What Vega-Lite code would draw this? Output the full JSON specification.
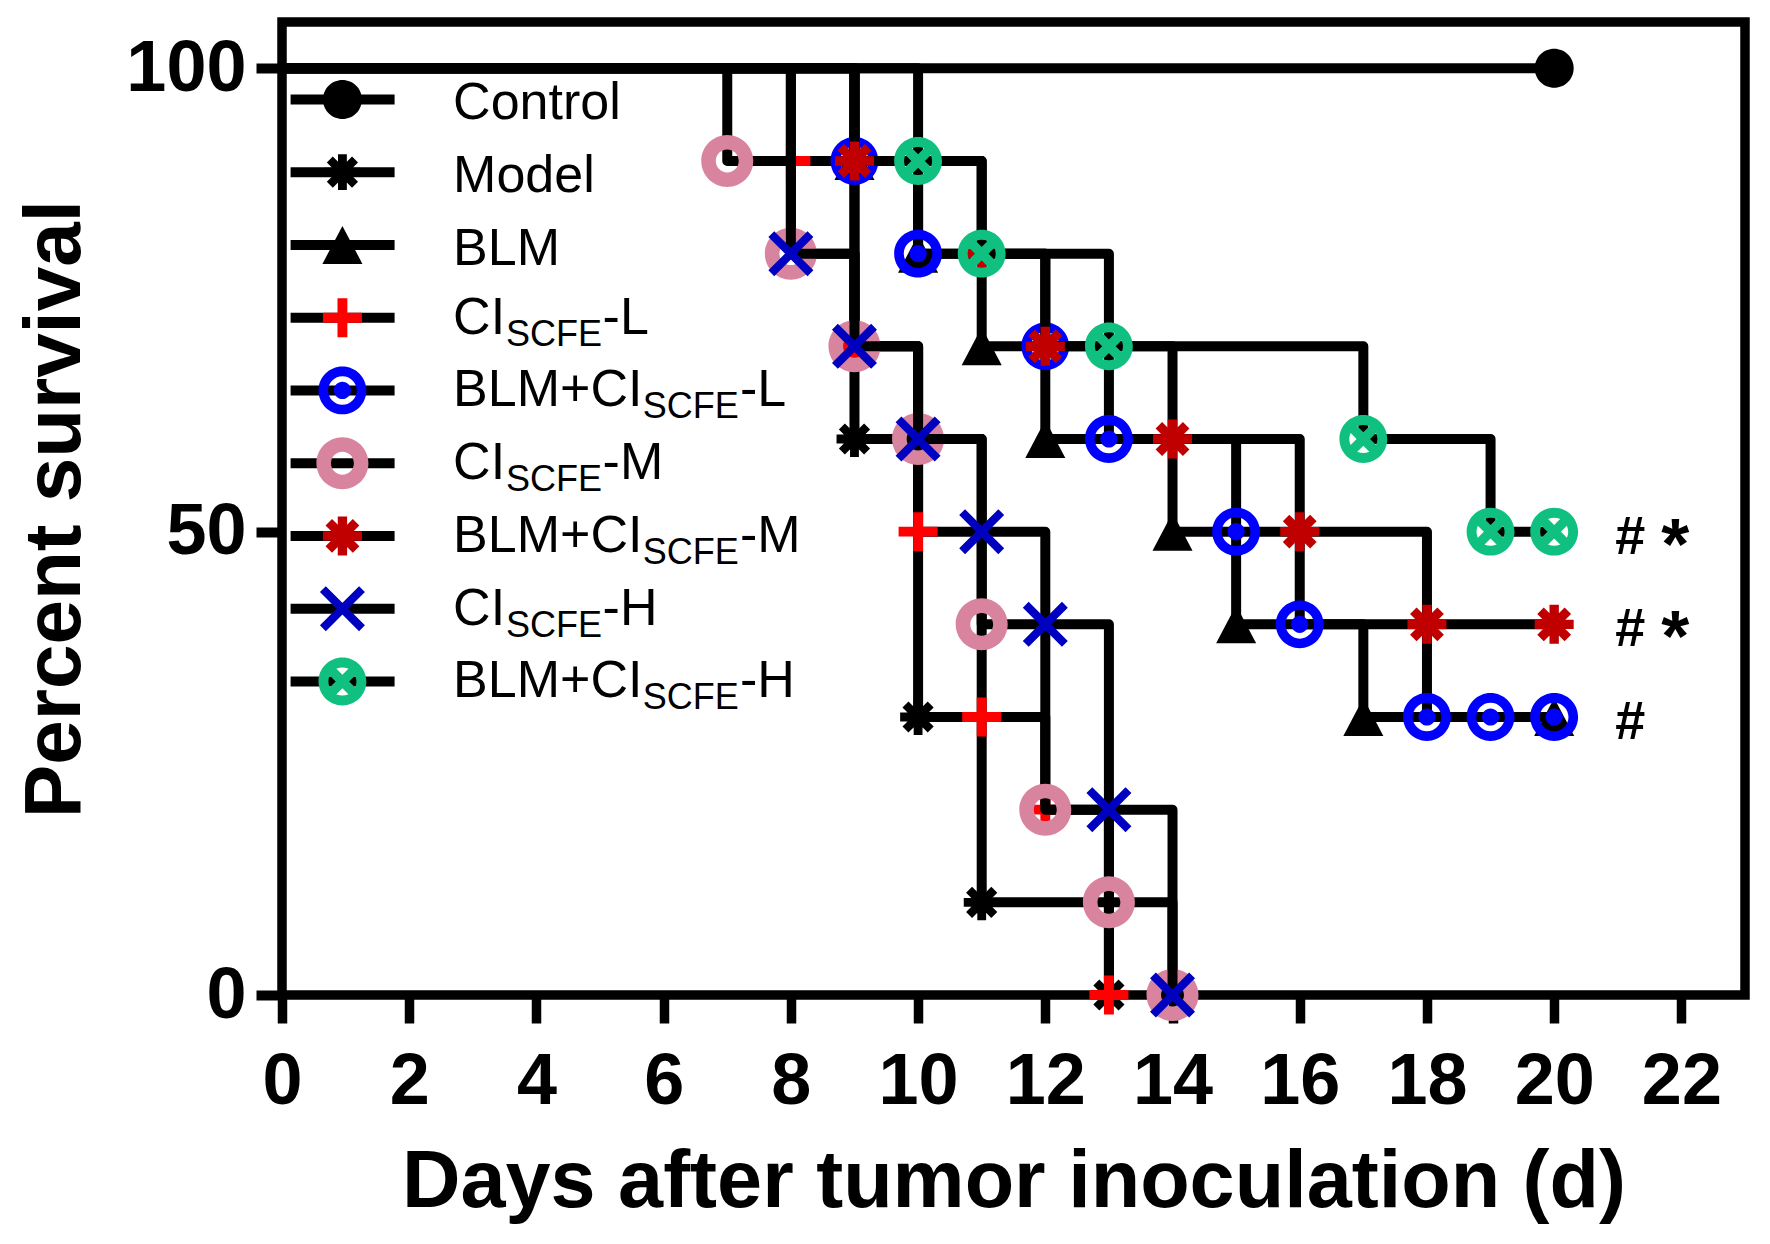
{
  "$schema": "https://vega.github.io/schema/vega-lite/v6.json",
  "width": 1463,
  "height": 973,
  "autosize": "none",
  "padding": {"left": 282, "top": 22, "right": 25, "bottom": 249},
  "background": "white",
  "datasets": {
    "curves": [
      {"group": "Control", "day": 0, "surv": 100}, {"group": "Control", "day": 20, "surv": 100},
      {"group": "Model", "day": 0, "surv": 100}, {"group": "Model", "day": 9, "surv": 60}, {"group": "Model", "day": 10, "surv": 30}, {"group": "Model", "day": 11, "surv": 10}, {"group": "Model", "day": 13, "surv": 0},
      {"group": "BLM", "day": 0, "surv": 100}, {"group": "BLM", "day": 9, "surv": 90}, {"group": "BLM", "day": 10, "surv": 80}, {"group": "BLM", "day": 11, "surv": 70}, {"group": "BLM", "day": 12, "surv": 60}, {"group": "BLM", "day": 14, "surv": 50}, {"group": "BLM", "day": 15, "surv": 40}, {"group": "BLM", "day": 17, "surv": 30}, {"group": "BLM", "day": 20, "surv": 30},
      {"group": "CI-L", "day": 0, "surv": 100}, {"group": "CI-L", "day": 8, "surv": 90}, {"group": "CI-L", "day": 9, "surv": 70}, {"group": "CI-L", "day": 10, "surv": 50}, {"group": "CI-L", "day": 11, "surv": 30}, {"group": "CI-L", "day": 12, "surv": 20}, {"group": "CI-L", "day": 13, "surv": 0},
      {"group": "BLM+CI-L", "day": 0, "surv": 100}, {"group": "BLM+CI-L", "day": 9, "surv": 90}, {"group": "BLM+CI-L", "day": 10, "surv": 80}, {"group": "BLM+CI-L", "day": 12, "surv": 70}, {"group": "BLM+CI-L", "day": 13, "surv": 60}, {"group": "BLM+CI-L", "day": 15, "surv": 50}, {"group": "BLM+CI-L", "day": 16, "surv": 40}, {"group": "BLM+CI-L", "day": 18, "surv": 30}, {"group": "BLM+CI-L", "day": 19, "surv": 30}, {"group": "BLM+CI-L", "day": 20, "surv": 30},
      {"group": "CI-M", "day": 0, "surv": 100}, {"group": "CI-M", "day": 7, "surv": 90}, {"group": "CI-M", "day": 8, "surv": 80}, {"group": "CI-M", "day": 9, "surv": 70}, {"group": "CI-M", "day": 10, "surv": 60}, {"group": "CI-M", "day": 11, "surv": 40}, {"group": "CI-M", "day": 12, "surv": 20}, {"group": "CI-M", "day": 13, "surv": 10}, {"group": "CI-M", "day": 14, "surv": 0},
      {"group": "BLM+CI-M", "day": 0, "surv": 100}, {"group": "BLM+CI-M", "day": 9, "surv": 90}, {"group": "BLM+CI-M", "day": 11, "surv": 80}, {"group": "BLM+CI-M", "day": 12, "surv": 70}, {"group": "BLM+CI-M", "day": 14, "surv": 60}, {"group": "BLM+CI-M", "day": 16, "surv": 50}, {"group": "BLM+CI-M", "day": 18, "surv": 40}, {"group": "BLM+CI-M", "day": 20, "surv": 40},
      {"group": "CI-H", "day": 0, "surv": 100}, {"group": "CI-H", "day": 8, "surv": 80}, {"group": "CI-H", "day": 9, "surv": 70}, {"group": "CI-H", "day": 10, "surv": 60}, {"group": "CI-H", "day": 11, "surv": 50}, {"group": "CI-H", "day": 12, "surv": 40}, {"group": "CI-H", "day": 13, "surv": 20}, {"group": "CI-H", "day": 14, "surv": 0},
      {"group": "BLM+CI-H", "day": 0, "surv": 100}, {"group": "BLM+CI-H", "day": 10, "surv": 90}, {"group": "BLM+CI-H", "day": 11, "surv": 80}, {"group": "BLM+CI-H", "day": 13, "surv": 70}, {"group": "BLM+CI-H", "day": 17, "surv": 60}, {"group": "BLM+CI-H", "day": 19, "surv": 50}, {"group": "BLM+CI-H", "day": 20, "surv": 50}
    ],
    "notes": [
      {"day": 20, "surv": 50, "hash": "#", "star": "*"},
      {"day": 20, "surv": 40, "hash": "#", "star": "*"},
      {"day": 20, "surv": 30, "hash": "#", "star": ""}
    ],
    "legend": [
      {"group": "Control", "rank": 1, "pre": "Control"},
      {"group": "Model", "rank": 2, "pre": "Model"},
      {"group": "BLM", "rank": 3, "pre": "BLM"},
      {"group": "CI-L", "rank": 4, "pre": "CI", "sub": "SCFE", "suf": "-L"},
      {"group": "BLM+CI-L", "rank": 5, "pre": "BLM+CI", "sub": "SCFE", "suf": "-L"},
      {"group": "CI-M", "rank": 6, "pre": "CI", "sub": "SCFE", "suf": "-M"},
      {"group": "BLM+CI-M", "rank": 7, "pre": "BLM+CI", "sub": "SCFE", "suf": "-M"},
      {"group": "CI-H", "rank": 8, "pre": "CI", "sub": "SCFE", "suf": "-H"},
      {"group": "BLM+CI-H", "rank": 9, "pre": "BLM+CI", "sub": "SCFE", "suf": "-H"}
    ]
  },
  "resolve": {"scale": {"y": "independent"}},
  "layer": [
    {
      "data": {"name": "curves"},
      "encoding": {
        "x": {
          "field": "day", "type": "quantitative",
          "scale": {"domain": [0, 23], "nice": false, "zero": true},
          "axis": {
            "values": [0, 2, 4, 6, 8, 10, 12, 14, 16, 18, 20, 22],
            "format": "d",
            "title": "Days after tumor inoculation (d)",
            "tickSize": 28, "tickWidth": 9.5, "labelPadding": 23,
            "titleFontSize": 81, "titlePadding": 25
          }
        },
        "y": {
          "field": "surv", "type": "quantitative",
          "scale": {"domain": [0, 105], "nice": false},
          "axis": {
            "values": [0, 50, 100],
            "format": "d",
            "title": "Percent survival",
            "tickSize": 26, "tickWidth": 10, "labelPadding": 10,
            "titleFontSize": 80, "titlePadding": 29
          }
        }
      },
      "layer": [
        {
          "transform": [{"filter": "datum.group === 'Control'"}],
          "layer": [
            {"mark": {"type": "line", "interpolate": "step-after", "color": "black", "strokeWidth": 10, "strokeJoin": "round"}},
            {
              "transform": [{"filter": "datum.day > 0"}],
              "mark": {"type": "point", "filled": true, "opacity": 1, "size": 2704, "strokeWidth": 0},
              "encoding": {
                "color": {
                  "field": "group", "type": "nominal",
                  "scale": {
                    "domain": ["Control", "Model", "BLM", "CI-L", "BLM+CI-L", "CI-M", "BLM+CI-M", "CI-H", "BLM+CI-H"],
                    "range": ["#000000", "#000000", "#000000", "#ff0000", "#0000ff", "#d8849f", "#c00000", "#0000c0", "#10c080"]
                  }
                },
                "shape": {
                  "field": "group", "type": "nominal",
                  "scale": {
                    "domain": ["Control", "Model", "BLM", "CI-L", "BLM+CI-L", "CI-M", "BLM+CI-M", "CI-H", "BLM+CI-H"],
                    "range": [
                      "M0.75,0A0.75,0.75,0,1,1,-0.75,0A0.75,0.75,0,1,1,0.75,0Z",
                      "M-0.17,-0.69H0.17V0.69H-0.17Z M-0.69,-0.17H0.69V0.17H-0.69Z M-0.37,-0.6L0.6,0.37L0.37,0.6L-0.6,-0.37Z M-0.37,0.6L-0.6,0.37L0.37,-0.6L0.6,-0.37Z",
                      "M0,-0.73L0.77,0.73L-0.77,0.73Z",
                      "M-0.19,-0.75H0.19V0.75H-0.19Z M-0.75,-0.19H0.75V0.19H-0.75Z",
                      "M0.92,0A0.92,0.92,0,1,1,-0.92,0A0.92,0.92,0,1,1,0.92,0Z M0.55,0A0.55,0.55,0,1,0,-0.55,0A0.55,0.55,0,1,0,0.55,0Z M0.33,0A0.33,0.33,0,1,1,-0.33,0A0.33,0.33,0,1,1,0.33,0Z",
                      "M1,0A1,1,0,1,1,-1,0A1,1,0,1,1,1,0Z M0.44,0A0.44,0.44,0,1,0,-0.44,0A0.44,0.44,0,1,0,0.44,0Z",
                      "M-0.18,-0.75H0.18V0.75H-0.18Z M-0.75,-0.18H0.75V0.18H-0.75Z M-0.4,-0.65L0.65,0.4L0.4,0.65L-0.65,-0.4Z M-0.4,0.65L-0.65,0.4L0.4,-0.65L0.65,-0.4Z",
                      "M-0.64,-0.865L0.865,0.64L0.64,0.865L-0.865,-0.64Z M-0.64,0.865L-0.865,0.64L0.64,-0.865L0.865,-0.64Z",
                      "M0.92,0A0.92,0.92,0,1,1,-0.92,0A0.92,0.92,0,1,1,0.92,0Z M0.54,0A0.54,0.54,0,1,0,-0.54,0A0.54,0.54,0,1,0,0.54,0Z M-0.47,-0.73L0.73,0.47L0.47,0.73L-0.73,-0.47Z M-0.47,0.73L-0.73,0.47L0.47,-0.73L0.73,-0.47Z"
                    ]
                  }
                }
              }
            }
          ]
        },
        {
          "transform": [{"filter": "datum.group === 'Model'"}],
          "layer": [
            {"mark": {"type": "line", "interpolate": "step-after", "color": "black", "strokeWidth": 10, "strokeJoin": "round"}},
            {"transform": [{"filter": "datum.day > 0"}], "mark": {"type": "point", "filled": true, "opacity": 1, "size": 2704, "strokeWidth": 0},
             "encoding": {"color": {"field": "group", "type": "nominal"}, "shape": {"field": "group", "type": "nominal"}}}
          ]
        },
        {
          "transform": [{"filter": "datum.group === 'BLM'"}],
          "layer": [
            {"mark": {"type": "line", "interpolate": "step-after", "color": "black", "strokeWidth": 10, "strokeJoin": "round"}},
            {"transform": [{"filter": "datum.day > 0"}], "mark": {"type": "point", "filled": true, "opacity": 1, "size": 2704, "strokeWidth": 0},
             "encoding": {"color": {"field": "group", "type": "nominal"}, "shape": {"field": "group", "type": "nominal"}}}
          ]
        },
        {
          "transform": [{"filter": "datum.group === 'CI-L'"}],
          "layer": [
            {"mark": {"type": "line", "interpolate": "step-after", "color": "black", "strokeWidth": 10, "strokeJoin": "round"}},
            {"transform": [{"filter": "datum.day > 0"}], "mark": {"type": "point", "filled": true, "opacity": 1, "size": 2704, "strokeWidth": 0},
             "encoding": {"color": {"field": "group", "type": "nominal"}, "shape": {"field": "group", "type": "nominal"}}}
          ]
        },
        {
          "transform": [{"filter": "datum.group === 'BLM+CI-L'"}],
          "layer": [
            {"mark": {"type": "line", "interpolate": "step-after", "color": "black", "strokeWidth": 10, "strokeJoin": "round"}},
            {"transform": [{"filter": "datum.day > 0"}], "mark": {"type": "point", "filled": true, "opacity": 1, "size": 2704, "strokeWidth": 0},
             "encoding": {"color": {"field": "group", "type": "nominal"}, "shape": {"field": "group", "type": "nominal"}}}
          ]
        },
        {
          "transform": [{"filter": "datum.group === 'CI-M'"}],
          "layer": [
            {"mark": {"type": "line", "interpolate": "step-after", "color": "black", "strokeWidth": 10, "strokeJoin": "round"}},
            {"transform": [{"filter": "datum.day > 0"}], "mark": {"type": "point", "filled": true, "opacity": 1, "size": 2704, "strokeWidth": 0},
             "encoding": {"color": {"field": "group", "type": "nominal"}, "shape": {"field": "group", "type": "nominal"}}}
          ]
        },
        {
          "transform": [{"filter": "datum.group === 'BLM+CI-M'"}],
          "layer": [
            {"mark": {"type": "line", "interpolate": "step-after", "color": "black", "strokeWidth": 10, "strokeJoin": "round"}},
            {"transform": [{"filter": "datum.day > 0"}], "mark": {"type": "point", "filled": true, "opacity": 1, "size": 2704, "strokeWidth": 0},
             "encoding": {"color": {"field": "group", "type": "nominal"}, "shape": {"field": "group", "type": "nominal"}}}
          ]
        },
        {
          "transform": [{"filter": "datum.group === 'CI-H'"}],
          "layer": [
            {"mark": {"type": "line", "interpolate": "step-after", "color": "black", "strokeWidth": 10, "strokeJoin": "round"}},
            {"transform": [{"filter": "datum.day > 0"}], "mark": {"type": "point", "filled": true, "opacity": 1, "size": 2704, "strokeWidth": 0},
             "encoding": {"color": {"field": "group", "type": "nominal"}, "shape": {"field": "group", "type": "nominal"}}}
          ]
        },
        {
          "transform": [{"filter": "datum.group === 'BLM+CI-H'"}],
          "layer": [
            {"mark": {"type": "line", "interpolate": "step-after", "color": "black", "strokeWidth": 10, "strokeJoin": "round"}},
            {"transform": [{"filter": "datum.day > 0"}], "mark": {"type": "point", "filled": true, "opacity": 1, "size": 2704, "strokeWidth": 0},
             "encoding": {"color": {"field": "group", "type": "nominal"}, "shape": {"field": "group", "type": "nominal"}}}
          ]
        },
        {
          "data": {"name": "notes"},
          "layer": [
            {"mark": {"type": "text", "align": "left", "baseline": "alphabetic", "fontSize": 54, "fontWeight": "bold", "color": "black", "dx": 61, "dy": 22},
             "encoding": {"text": {"field": "hash", "type": "nominal"}}},
            {"mark": {"type": "text", "align": "left", "baseline": "alphabetic", "fontSize": 72, "fontWeight": "bold", "color": "black", "dx": 107, "dy": 37},
             "encoding": {"text": {"field": "star", "type": "nominal"}}}
          ]
        }
      ]
    },
    {
      "data": {"name": "legend"},
      "encoding": {
        "y": {"field": "rank", "type": "quantitative", "scale": {"domain": [-0.064, 13.309], "reverse": true, "nice": false, "zero": false}, "axis": null}
      },
      "layer": [
        {"mark": {"type": "rule", "color": "black", "strokeWidth": 10}, "encoding": {"x": {"datum": 0.135}, "x2": {"datum": 1.77}}},
        {"mark": {"type": "point", "filled": true, "opacity": 1, "size": 2704, "strokeWidth": 0},
         "encoding": {"x": {"datum": 0.95}, "color": {"field": "group", "type": "nominal"}, "shape": {"field": "group", "type": "nominal"}}},
        {"transform": [{"filter": "!datum.sub"}],
         "mark": {"type": "text", "align": "left", "baseline": "alphabetic", "fontSize": 52, "color": "black", "dy": 20},
         "encoding": {"x": {"datum": 2.69}, "text": {"field": "pre", "type": "nominal"}}},
        {"transform": [{"filter": "datum.sub"}],
         "mark": {"type": "text", "align": "left", "baseline": "alphabetic", "fontSize": 52, "color": "black", "dy": 16},
         "encoding": {"x": {"datum": 2.69}, "text": {"field": "pre", "type": "nominal"}}},
        {"transform": [{"filter": "datum.pre === 'CI'"}],
         "mark": {"type": "text", "align": "left", "baseline": "alphabetic", "fontSize": 36, "color": "black", "dy": 28},
         "encoding": {"x": {"datum": 3.52}, "text": {"field": "sub", "type": "nominal"}}},
        {"transform": [{"filter": "datum.pre === 'CI'"}],
         "mark": {"type": "text", "align": "left", "baseline": "alphabetic", "fontSize": 52, "color": "black", "dy": 16},
         "encoding": {"x": {"datum": 5.04}, "text": {"field": "suf", "type": "nominal"}}},
        {"transform": [{"filter": "datum.pre === 'BLM+CI'"}],
         "mark": {"type": "text", "align": "left", "baseline": "alphabetic", "fontSize": 36, "color": "black", "dy": 28},
         "encoding": {"x": {"datum": 5.67}, "text": {"field": "sub", "type": "nominal"}}},
        {"transform": [{"filter": "datum.pre === 'BLM+CI'"}],
         "mark": {"type": "text", "align": "left", "baseline": "alphabetic", "fontSize": 52, "color": "black", "dy": 16},
         "encoding": {"x": {"datum": 7.2}, "text": {"field": "suf", "type": "nominal"}}}
      ]
    }
  ],
  "config": {
    "view": {"stroke": "black", "strokeWidth": 9.5, "fill": "white"},
    "font": "Liberation Sans",
    "legend": {"disable": true},
    "axis": {
      "domain": false,
      "grid": false,
      "tickColor": "black",
      "labelColor": "black",
      "titleColor": "black",
      "labelFont": "Liberation Sans",
      "titleFont": "Liberation Sans",
      "labelFontWeight": "bold",
      "titleFontWeight": "bold",
      "labelFontSize": 72,
      "labelFlush": false,
      "labelOverlap": false
    }
  }
}
